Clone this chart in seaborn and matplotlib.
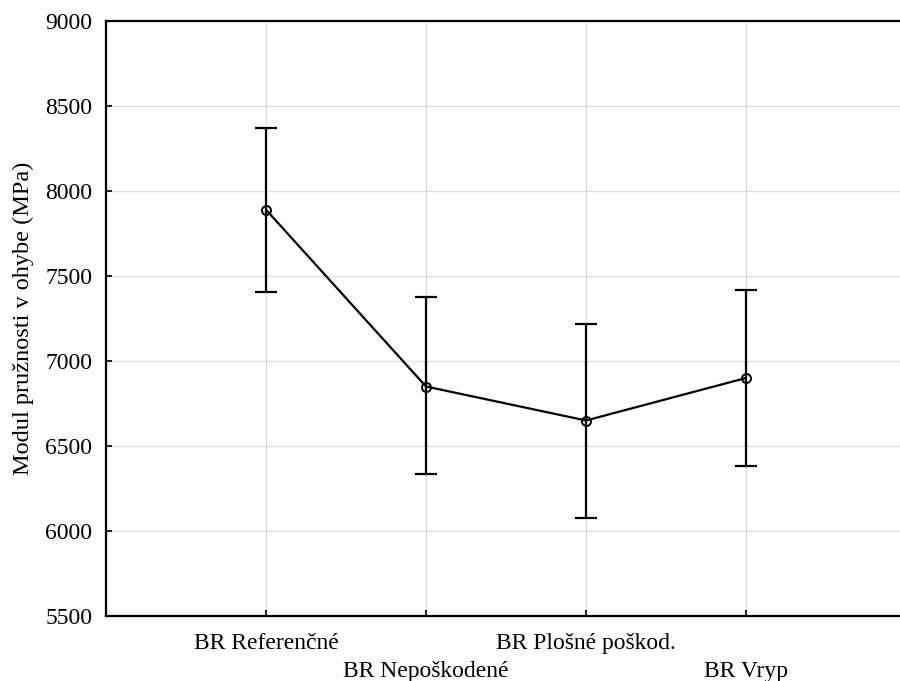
import matplotlib
matplotlib.use("Agg")
import matplotlib.pyplot as plt
import seaborn as sns
import pandas as pd

# hodnoty odčítané z grafu
skupiny = ["BR Referenčné", "BR Nepoškodené", "BR Plošné poškod.", "BR Vryp"]
priemer = [7890, 6850, 6650, 6900]
horna = [8370, 7375, 7215, 7420]
dolna = [7405, 6335, 6075, 6380]

df = pd.DataFrame({"x": range(len(skupiny)), "skupina": skupiny, "priemer": priemer})

sns.set_style("white")
plt.rcParams["font.family"] = ["Liberation Serif", "DejaVu Serif"]

fig = plt.figure(figsize=(9, 6.81), dpi=100)
ax = fig.add_axes([106 / 900, 65 / 681, 800 / 900, 595 / 681])

ax.grid(True, color="#dddddd", linewidth=0.9)
ax.set_axisbelow(True)

err_dole = [p - d for p, d in zip(priemer, dolna)]
err_hore = [h - p for h, p in zip(horna, priemer)]
ax.errorbar(df["x"], df["priemer"], yerr=[err_dole, err_hore], fmt="none",
            ecolor="black", elinewidth=1.6, capsize=8, capthick=1.6, zorder=3)

sns.lineplot(data=df, x="x", y="priemer", color="black", linewidth=1.6,
             marker="o", markersize=6.5, markerfacecolor="none",
             markeredgecolor="black", markeredgewidth=1.4, ax=ax, zorder=4)

ax.set_xlim(-1, 4)
ax.set_ylim(5500, 9000)
ax.set_yticks(range(5500, 9001, 500))
ax.set_xticks(df["x"])
ax.set_xticklabels([s if i % 2 == 0 else "\n" + s for i, s in enumerate(skupiny)],
                   linespacing=1.45)
ax.set_xlabel("")
ax.set_ylabel("Modul pružnosti v ohybe (MPa)", fontsize=17.5, labelpad=8, color="black")
ax.tick_params(axis="both", labelsize=17, direction="in", length=4,
               color="black", labelcolor="black", width=1.2, bottom=True, left=True)
ax.tick_params(axis="x", pad=12)
ax.tick_params(axis="y", pad=10)

for s in ["left", "bottom", "top"]:
    ax.spines[s].set_color("black")
    ax.spines[s].set_linewidth(1.6)
ax.spines["right"].set_visible(False)

fig.savefig("out.png", dpi=100)
